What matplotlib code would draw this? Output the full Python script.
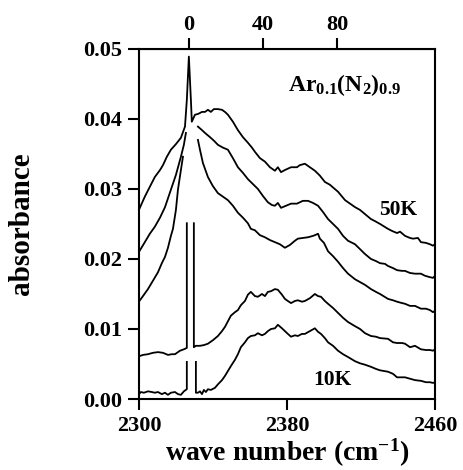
import numpy as np
import matplotlib
matplotlib.use("Agg")
import matplotlib.pyplot as plt
from matplotlib.ticker import FormatStrFormatter

plt.rcParams['font.family'] = ['Liberation Serif', 'DejaVu Serif']
plt.rcParams['font.weight'] = 'bold'
plt.rcParams['mathtext.fontset'] = 'custom'
plt.rcParams['mathtext.rm'] = 'Liberation Serif:bold'
plt.rcParams['mathtext.bf'] = 'Liberation Serif:bold'
plt.rcParams['mathtext.it'] = 'Liberation Serif:bold'

nan = np.nan

# 50K (top curve)
wn_50k = [2300, 2303.2, 2305.9, 2308.6, 2311.4, 2313.0, 2315.1, 2317.3, 2320.0, 2322.7,
          2324.9, 2325.9, 2327.0, 2328.1, 2328.6, 2330.3, 2331.9, 2334.1, 2335.7, 2337.3,
          2338.9, 2340.5, 2342.7, 2344.9, 2346.5, 2348.1, 2350.8, 2353.5, 2356.2, 2358.9,
          2361.1, 2362.7, 2365.4, 2368.1, 2370.8, 2373.5, 2375.1, 2376.8, 2378.9, 2382.2,
          2385.4, 2387.0, 2389.7, 2392.4, 2395.1, 2397.8, 2400.5, 2403.2, 2407.6, 2411.4,
          2414.1, 2416.8, 2419.5, 2422.2, 2425.4, 2427.6, 2430.3, 2434.6, 2436.8, 2439.5,
          2441.1, 2443.8, 2446.5, 2448.1, 2450.8, 2452.4, 2455.1, 2457.3, 2458.9, 2460]
abs_50k = [0.0270, 0.0289, 0.0303, 0.0317, 0.0327, 0.0334, 0.0346, 0.0356, 0.0364, 0.0373,
           0.0389, 0.0427, 0.0489, 0.0427, 0.0396, 0.0406, 0.0407, 0.0410, 0.0410, 0.0413,
           0.0410, 0.0414, 0.0414, 0.0413, 0.0410, 0.0406, 0.0396, 0.0384, 0.0374, 0.0366,
           0.0359, 0.0353, 0.0344, 0.0339, 0.0331, 0.0326, 0.0331, 0.0324, 0.0327, 0.0331,
           0.0331, 0.0334, 0.0336, 0.0331, 0.0326, 0.0319, 0.0310, 0.0306, 0.0296, 0.0284,
           0.0279, 0.0274, 0.0270, 0.0264, 0.0257, 0.0254, 0.0250, 0.0243, 0.0240, 0.0237,
           0.0239, 0.0233, 0.0230, 0.0229, 0.0230, 0.0224, 0.0223, 0.0221, 0.0219, 0.0221]

# second curve
wn_2 = [2300, 2303.2, 2305.9, 2308.6, 2311.4, 2314.1, 2317.3, 2320.0, 2322.7, 2324.3,
        2325.4, nan, 2331.9, 2334.1, 2335.7, 2338.4, 2340.5, 2342.7, 2345.4, 2348.1,
        2350.8, 2353.5, 2356.2, 2358.9, 2361.6, 2364.3, 2367.0, 2369.7, 2371.9, 2373.5,
        2375.1, 2376.8, 2379.5, 2382.2, 2385.4, 2388.6, 2391.4, 2394.1, 2396.8, 2399.5,
        2402.2, 2404.9, 2407.6, 2410.3, 2413.0, 2416.8, 2419.5, 2422.2, 2425.4, 2428.1,
        2430.3, 2433.0, 2434.6, 2437.3, 2439.5, 2442.2, 2443.8, 2446.5, 2449.2, 2452.4,
        2454.6, 2457.3, 2458.9, 2460]
abs_2 = [0.0210, 0.0224, 0.0236, 0.0246, 0.0259, 0.0274, 0.0299, 0.0320, 0.0346, 0.0363,
         0.0380, nan, 0.0389, 0.0384, 0.0380, 0.0374, 0.0369, 0.0363, 0.0359, 0.0356,
         0.0344, 0.0331, 0.0323, 0.0314, 0.0307, 0.0300, 0.0290, 0.0281, 0.0277, 0.0276,
         0.0280, 0.0273, 0.0276, 0.0279, 0.0279, 0.0283, 0.0283, 0.0280, 0.0276, 0.0267,
         0.0257, 0.0250, 0.0243, 0.0233, 0.0226, 0.0221, 0.0214, 0.0207, 0.0200, 0.0197,
         0.0194, 0.0193, 0.0190, 0.0187, 0.0184, 0.0183, 0.0183, 0.0180, 0.0179, 0.0179,
         0.0176, 0.0174, 0.0173, 0.0176]

# third curve
wn_3 = [2300, 2302.2, 2304.9, 2307.6, 2310.3, 2312.4, 2314.1, 2315.7, 2317.3, 2318.4,
        2320.0, 2321.1, 2322.7, 2323.8, nan, 2331.9, 2333.0, 2334.6, 2337.3, 2340.0,
        2342.7, 2345.4, 2348.1, 2350.8, 2353.5, 2356.2, 2358.9, 2360.5, 2362.7, 2365.4,
        2368.1, 2370.8, 2373.5, 2376.2, 2378.9, 2381.6, 2384.3, 2385.9, 2388.6, 2391.4,
        2394.1, 2395.1, 2396.8, 2397.8, 2400.0, 2402.2, 2404.9, 2407.6, 2410.3, 2413.0,
        2416.8, 2419.5, 2422.2, 2425.4, 2428.1, 2430.3, 2434.6, 2437.3, 2439.5, 2442.2,
        2443.8, 2446.5, 2449.2, 2452.4, 2455.1, 2457.3, 2458.9, 2460]
abs_3 = [0.0139, 0.0147, 0.0157, 0.0169, 0.0181, 0.0194, 0.0203, 0.0216, 0.0233, 0.0243,
         0.0270, 0.0299, 0.0327, 0.0346, nan, 0.0370, 0.0356, 0.0337, 0.0317, 0.0304,
         0.0294, 0.0289, 0.0284, 0.0276, 0.0266, 0.0259, 0.0251, 0.0243, 0.0241, 0.0234,
         0.0231, 0.0227, 0.0224, 0.0221, 0.0216, 0.0220, 0.0226, 0.0229, 0.0230, 0.0231,
         0.0233, 0.0234, 0.0236, 0.0229, 0.0223, 0.0211, 0.0204, 0.0196, 0.0187, 0.0179,
         0.0171, 0.0167, 0.0163, 0.0157, 0.0153, 0.0150, 0.0143, 0.0141, 0.0139, 0.0137,
         0.0136, 0.0133, 0.0133, 0.0129, 0.0129, 0.0127, 0.0124, 0.0126]

# fourth curve
wn_4 = [2300, 2302.2, 2304.9, 2307.6, 2310.3, 2313.0, 2315.7, 2317.8, 2319.5, 2322.2,
        2324.3, 2325.9, 2325.9, nan, 2329.7, 2329.7, 2330.8, 2333.0, 2335.1, 2337.3,
        2340.0, 2342.7, 2344.9, 2346.5, 2348.1, 2349.7, 2351.9, 2353.5, 2355.1, 2357.3,
        2358.9, 2360.5, 2362.7, 2364.3, 2366.5, 2368.1, 2369.7, 2371.4, 2373.5, 2375.1,
        2377.3, 2378.9, 2380.5, 2382.2, 2384.3, 2385.9, 2388.1, 2389.7, 2392.4, 2395.1,
        2396.8, 2398.4, 2400.5, 2402.2, 2404.9, 2407.6, 2410.3, 2413.0, 2416.8, 2419.5,
        2422.2, 2425.4, 2428.1, 2430.3, 2434.6, 2437.3, 2439.5, 2442.2, 2443.8, 2446.5,
        2449.2, 2452.4, 2455.1, 2457.3, 2458.9, 2460]
abs_4 = [0.0061, 0.0063, 0.0064, 0.0066, 0.0067, 0.0066, 0.0063, 0.0064, 0.0064, 0.0069,
         0.0071, 0.0073, 0.0251, nan, 0.0251, 0.0074, 0.0076, 0.0076, 0.0077, 0.0079,
         0.0084, 0.0090, 0.0097, 0.0103, 0.0111, 0.0119, 0.0124, 0.0127, 0.0134, 0.0140,
         0.0149, 0.0153, 0.0147, 0.0146, 0.0150, 0.0147, 0.0153, 0.0154, 0.0157, 0.0156,
         0.0149, 0.0143, 0.0140, 0.0137, 0.0140, 0.0141, 0.0139, 0.0140, 0.0144, 0.0150,
         0.0147, 0.0146, 0.0140, 0.0136, 0.0130, 0.0123, 0.0116, 0.0110, 0.0104, 0.0100,
         0.0094, 0.0090, 0.0089, 0.0087, 0.0086, 0.0081, 0.0080, 0.0080, 0.0079, 0.0074,
         0.0076, 0.0071, 0.0070, 0.0070, 0.0069, 0.0071]

# 10K (bottom curve)
wn_10k = [2300, 2301.1, 2302.7, 2304.9, 2307.0, 2308.6, 2310.3, 2312.4, 2314.1, 2315.7,
          2317.3, 2319.5, 2321.1, 2322.7, 2324.3, 2325.9, 2325.9, nan, 2330.8, 2330.8,
          2331.9, 2333.0, 2334.1, 2335.1, 2336.2, 2337.3, 2338.9, 2341.1, 2342.7, 2344.9,
          2346.5, 2348.1, 2349.7, 2351.9, 2353.5, 2355.1, 2357.3, 2358.9, 2360.5, 2362.7,
          2364.3, 2366.5, 2368.1, 2369.7, 2371.4, 2373.5, 2375.1, 2377.3, 2378.9, 2380.5,
          2382.2, 2384.3, 2385.9, 2388.1, 2389.7, 2392.4, 2395.1, 2396.8, 2398.4, 2400.5,
          2402.2, 2404.9, 2407.6, 2410.3, 2413.0, 2416.8, 2419.5, 2422.2, 2425.4, 2428.1,
          2430.3, 2434.6, 2437.3, 2439.5, 2442.2, 2443.8, 2446.5, 2449.2, 2452.4, 2455.1,
          2457.3, 2458.9, 2460]
abs_10k = [0.0007, 0.0010, 0.0009, 0.0011, 0.0010, 0.0009, 0.0010, 0.0007, 0.0009, 0.0006,
           0.0009, 0.0010, 0.0007, 0.0006, 0.0011, 0.0014, 0.0053, nan, 0.0053, 0.0009,
           0.0009, 0.0011, 0.0007, 0.0013, 0.0010, 0.0014, 0.0013, 0.0016, 0.0021, 0.0027,
           0.0033, 0.0040, 0.0047, 0.0056, 0.0064, 0.0074, 0.0081, 0.0087, 0.0090, 0.0091,
           0.0094, 0.0091, 0.0093, 0.0097, 0.0100, 0.0101, 0.0106, 0.0101, 0.0097, 0.0093,
           0.0089, 0.0091, 0.0090, 0.0093, 0.0093, 0.0097, 0.0101, 0.0096, 0.0093, 0.0087,
           0.0081, 0.0076, 0.0069, 0.0064, 0.0060, 0.0054, 0.0051, 0.0049, 0.0046, 0.0043,
           0.0041, 0.0039, 0.0036, 0.0031, 0.0031, 0.0031, 0.0029, 0.0027, 0.0026, 0.0024,
           0.0024, 0.0023, 0.0024]

curves = [(wn_50k, abs_50k), (wn_2, abs_2), (wn_3, abs_3), (wn_4, abs_4), (wn_10k, abs_10k)]

x_ticks = [2300, 2380, 2460]
y_ticks = [0.00, 0.01, 0.02, 0.03, 0.04, 0.05]
shift_ticks = [0, 40, 80]
line_center = 2327

fig = plt.figure(figsize=(4.63, 4.70), dpi=100)
ax = fig.add_axes([0.300, 0.151, 0.6395, 0.745])

for wn, ab in curves:
    ax.plot(wn, ab, color='black', linewidth=1.3)

ax.set_xlim(2300, 2460)
ax.set_ylim(0, 0.05)
ax.set_xticks(x_ticks)
ax.set_yticks(y_ticks)
ax.yaxis.set_major_formatter(FormatStrFormatter('%.2f'))
ax.tick_params(axis='both', direction='out', length=8, width=1.5, labelsize=16, pad=4)
for s in ax.spines.values():
    s.set_linewidth(1.5)

top = ax.secondary_xaxis('top', functions=(lambda x: x - line_center, lambda x: x + line_center))
top.set_xticks(shift_ticks)
top.tick_params(direction='out', length=8, width=1.5, labelsize=16, pad=2)

ax.set_xlabel(r'wave number (cm$^{-1}$)', fontsize=20, fontweight='bold')
ax.set_ylabel('absorbance', fontsize=21, fontweight='bold')
ax.xaxis.set_label_coords(0.5, -0.108)
ax.yaxis.set_label_coords(-0.35, 0.5)

ax.text(2380.5, 0.0440, r'$\mathbf{Ar_{0.1}(N_2)_{0.9}}$', fontsize=17, ha='left', va='baseline')
ax.text(2440, 0.0270, '50K', fontsize=15.5, fontweight='bold', ha='center', va='center')
ax.text(2404.3, 0.0027, '10K', fontsize=15.5, fontweight='bold', ha='center', va='center')

fig.savefig('out.png', dpi=100)
